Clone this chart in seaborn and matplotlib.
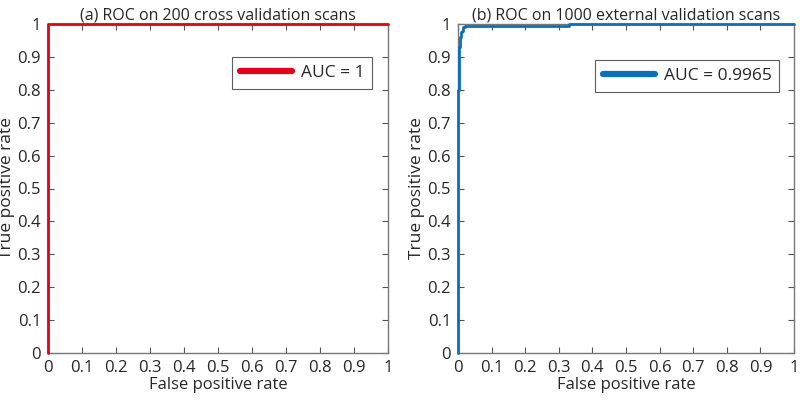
import matplotlib
matplotlib.use("Agg")
import matplotlib.pyplot as plt
import seaborn as sns
import pandas as pd

# (a) cross validation ROC
fpr_a = [0.0, 0.0, 1.0]
tpr_a = [0.0, 1.0, 1.0]
# (b) external validation ROC
fpr_b = [0.0, 0.0, 0.001, 0.002, 0.003, 0.004, 0.005, 0.007, 0.008, 0.010, 0.013, 0.016, 0.020, 0.030, 0.050, 0.100, 0.200, 0.320, 0.330, 0.500, 1.0]
tpr_b = [0.0, 0.70, 0.80, 0.86, 0.90, 0.93, 0.95, 0.96, 0.97, 0.975, 0.98, 0.99, 0.995, 0.995, 0.995, 0.995, 0.995, 0.995, 1.0, 1.0, 1.0]

titles = ["(a) ROC on 200 cross validation scans", "(b) ROC on 1000 external validation scans"]
labels = ["AUC = 1", "AUC = 0.9965"]
colors = ["#e3001b", "#0a6fbd"]
ticks = [0, 0.1, 0.2, 0.3, 0.4, 0.5, 0.6, 0.7, 0.8, 0.9, 1]
tick_labels = ["0", "0.1", "0.2", "0.3", "0.4", "0.5", "0.6", "0.7", "0.8", "0.9", "1"]

sns.set_style("white")
plt.rcParams["font.family"] = ["Open Sans", "DejaVu Sans"]

fig = plt.figure(figsize=(8, 4), dpi=100)
ax1 = fig.add_axes([0.06, 0.1175, 0.425, 0.8225])
ax2 = fig.add_axes([0.5725, 0.1175, 0.42, 0.8225])

data = [(fpr_a, tpr_a), (fpr_b, tpr_b)]
legend_pos = [(0.953, 0.90), (0.956, 0.89)]
for ax, (x, y), t, lab, c, lp in zip([ax1, ax2], data, titles, labels, colors, legend_pos):
    df = pd.DataFrame({"fpr": x, "tpr": y})
    sns.lineplot(data=df, x="fpr", y="tpr", ax=ax, color=c, lw=2, drawstyle="steps-post",
                 label=lab, sort=False, estimator=None, clip_on=False, zorder=5)
    ax.set_xlim(0, 1)
    ax.set_ylim(0, 1)
    ax.set_xticks(ticks)
    ax.set_xticklabels(tick_labels)
    ax.set_yticks(ticks)
    ax.set_yticklabels(tick_labels)
    ax.tick_params(direction="in", length=4, width=0.8, color="#555555", labelsize=12,
                   top=True, right=True, bottom=True, left=True, pad=5)
    for s in ax.spines.values():
        s.set_color("#777777")
        s.set_linewidth(1)
    ax.set_xlabel("False positive rate", fontsize=12, labelpad=1)
    ax.set_ylabel("True positive rate", fontsize=12.5, labelpad=2)
    ax.set_title(t, fontsize=11.5, pad=3)
    leg = ax.legend(loc="upper right", bbox_to_anchor=lp, fontsize=12.5, frameon=True,
                    fancybox=False, handlelength=3.0, borderpad=0.45, handletextpad=0.5,
                    borderaxespad=0)
    leg.get_frame().set_edgecolor("#333333")
    leg.get_frame().set_linewidth(0.8)
    for h in leg.get_lines():
        h.set_linewidth(4.5)

fig.savefig("out.png", dpi=100)
